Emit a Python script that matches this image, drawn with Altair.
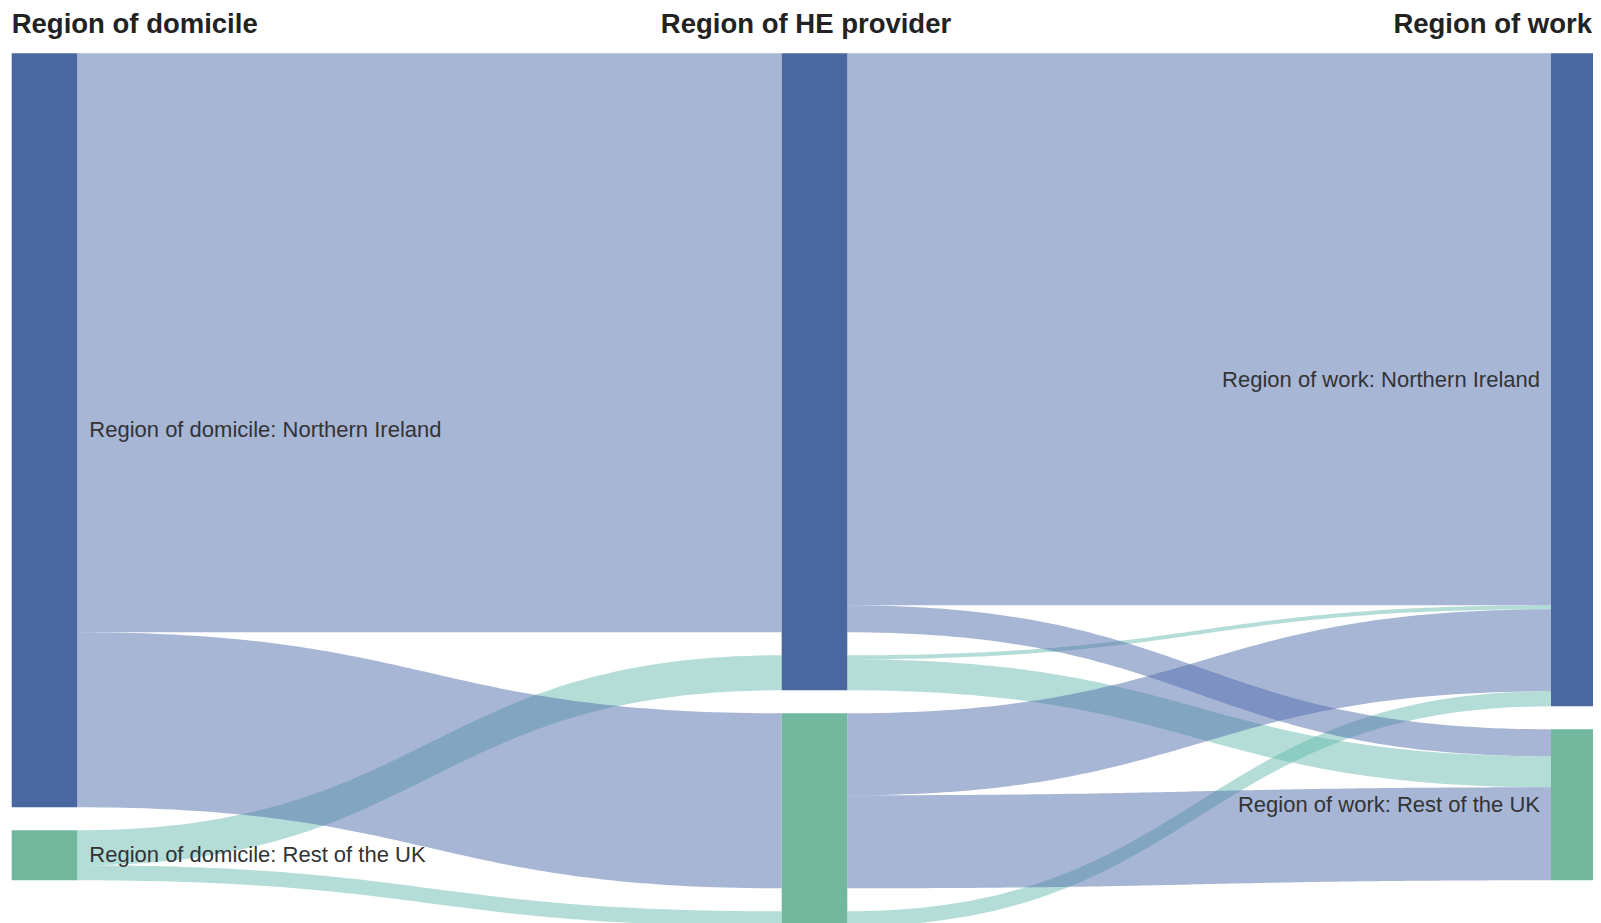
import altair as alt
import numpy as np
import pandas as pd

# ---------------- data ----------------
domiciles = ["Northern Ireland", "Rest of the UK"]
providers = ["Northern Ireland", "Rest of the UK"]
works = ["Northern Ireland", "Rest of the UK"]

flow_domicile = ["Northern Ireland", "Northern Ireland", "Northern Ireland", "Northern Ireland",
                 "Rest of the UK", "Rest of the UK", "Rest of the UK"]
flow_provider = ["Northern Ireland", "Northern Ireland", "Rest of the UK", "Rest of the UK",
                 "Northern Ireland", "Northern Ireland", "Rest of the UK"]
flow_work = ["Northern Ireland", "Rest of the UK", "Northern Ireland", "Rest of the UK",
             "Northern Ireland", "Rest of the UK", "Northern Ireland"]
flow_value = [552, 27, 82, 93, 4, 31, 15]

stage_titles = ["Region of domicile", "Region of HE provider", "Region of work"]
domicile_labels = ["Region of domicile: Northern Ireland", "Region of domicile: Rest of the UK"]
work_labels = ["Region of work: Northern Ireland", "Region of work: Rest of the UK"]

node_colors = ["#4a67a0", "#72b79e"]
link_colors = ["#516dad", "#67bbad"]

# ---------------- layout ----------------
ORIGIN = 8.0
W, H = 1585, 915
NODE_X = [11.7, 781.7, 1551.0]
NODE_W = 65.6
TOP = 53.3
GAP = 23.0

flows = pd.DataFrame({"d": flow_domicile, "p": flow_provider, "w": flow_work, "v": flow_value})
ncol = dict(zip(domiciles, node_colors))
lcol = dict(zip(domiciles, link_colors))

nodes = []
# stage 1: domicile
dom_pos = {}
y = TOP
for d in domiciles:
    h = flows.loc[flows.d == d, "v"].sum()
    dom_pos[d] = (y, y + h)
    nodes.append({"x": NODE_X[0], "x2": NODE_X[0] + NODE_W, "y": y, "y2": y + h, "color": ncol[d]})
    y += h + GAP

# stage 2: provider, with a segment per domicile
seg_pos = {}
y = TOP
for i, p in enumerate(providers):
    start = y
    first = True
    for d in domiciles:
        h = flows.loc[(flows.d == d) & (flows.p == p), "v"].sum()
        if h == 0:
            continue
        if not first:
            y += GAP
        seg_pos[(p, d)] = (y, y + h)
        y += h
        first = False
    nodes.append({"x": NODE_X[1], "x2": NODE_X[1] + NODE_W, "y": start, "y2": y, "color": node_colors[i]})
    y += GAP

# stage 3: work
work_pos = {}
y = TOP
for i, w in enumerate(works):
    h = flows.loc[flows.w == w, "v"].sum()
    work_pos[w] = (y, y + h)
    nodes.append({"x": NODE_X[2], "x2": NODE_X[2] + NODE_W, "y": y, "y2": y + h, "color": node_colors[i]})
    y += h + GAP

nodes_df = pd.DataFrame(nodes)

links = []
def add_link(lid, x0, x1, y0, y1, v, d):
    t = np.linspace(0, 1, 90)
    xm = (x0 + x1) / 2
    xs = (1 - t) ** 3 * x0 + 3 * (1 - t) ** 2 * t * xm + 3 * (1 - t) * t ** 2 * xm + t ** 3 * x1
    s = 3 * t ** 2 - 2 * t ** 3
    ytop = y0 + (y1 - y0) * s
    for xx, yy in zip(xs, ytop):
        links.append({"link": lid, "x": xx, "y": yy, "y2": yy + v, "dom": d, "color": lcol[d]})

lid = 0
# stage 1 -> 2
for d in domiciles:
    off = dom_pos[d][0]
    for p in providers:
        v = flows.loc[(flows.d == d) & (flows.p == p), "v"].sum()
        if v == 0:
            continue
        add_link(lid, NODE_X[0] + NODE_W, NODE_X[1], off, seg_pos[(p, d)][0], v, d)
        off += v
        lid += 1

# stage 2 -> 3
tgt_off = {w: work_pos[w][0] for w in works}
tgt_start = {}
for p in providers:
    for d in domiciles:
        for w in works:
            v = flows.loc[(flows.d == d) & (flows.p == p) & (flows.w == w), "v"].sum()
            tgt_start[(d, p, w)] = tgt_off[w]
            tgt_off[w] += v
for p in providers:
    for d in domiciles:
        if (p, d) not in seg_pos:
            continue
        off = seg_pos[(p, d)][0]
        for w in works:
            v = flows.loc[(flows.d == d) & (flows.p == p) & (flows.w == w), "v"].sum()
            if v == 0:
                continue
            add_link(lid, NODE_X[1] + NODE_W, NODE_X[2], off, tgt_start[(d, p, w)], v, d)
            off += v
            lid += 1

links_df = pd.DataFrame(links)

labels_left = pd.DataFrame({
    "x": [NODE_X[0] + NODE_W + 12] * 2,
    "y": [(dom_pos[d][0] + dom_pos[d][1]) / 2 for d in domiciles],
    "text": domicile_labels,
})
labels_right = pd.DataFrame({
    "x": [NODE_X[2] - 11] * 2,
    "y": [(work_pos[w][0] + work_pos[w][1]) / 2 for w in works],
    "text": work_labels,
})
titles_df = pd.DataFrame({
    "x": [NODE_X[0], 806.0, 1592.0],
    "y": [33.0] * 3,
    "text": stage_titles,
})

# ---------------- chart ----------------
xs = alt.Scale(domain=[ORIGIN, ORIGIN + W], nice=False, zero=False)
ys = alt.Scale(domain=[ORIGIN, ORIGIN + H], reverse=True, nice=False, zero=False)

def link_layer(dom):
    return alt.Chart(links_df[links_df.dom == dom]).mark_area(
        opacity=0.5, interpolate="linear", clip=True
    ).encode(
        x=alt.X("x:Q", scale=xs, axis=None),
        y=alt.Y("y:Q", scale=ys, axis=None, stack=None),
        y2="y2:Q",
        color=alt.Color("color:N", scale=None),
        detail="link:N",
    )

node_layer = alt.Chart(nodes_df).mark_rect(clip=True).encode(
    x=alt.X("x:Q", scale=xs, axis=None),
    x2="x2:Q",
    y=alt.Y("y:Q", scale=ys, axis=None),
    y2="y2:Q",
    color=alt.Color("color:N", scale=None),
)

FONT = "Liberation Sans"
def text_layer(df, align, size, weight, color, baseline):
    return alt.Chart(df).mark_text(
        align=align, baseline=baseline, fontSize=size, fontWeight=weight,
        font=FONT, color=color
    ).encode(
        x=alt.X("x:Q", scale=xs, axis=None),
        y=alt.Y("y:Q", scale=ys, axis=None),
        text="text:N",
    )

lab_l = text_layer(labels_left, "left", 22, "normal", "#333333", "middle")
lab_r = text_layer(labels_right, "right", 22, "normal", "#333333", "middle")
t0 = text_layer(titles_df.iloc[[0]], "left", 27.5, "bold", "#222222", "alphabetic")
t1 = text_layer(titles_df.iloc[[1]], "center", 27.5, "bold", "#222222", "alphabetic")
t2 = text_layer(titles_df.iloc[[2]], "right", 27.5, "bold", "#222222", "alphabetic")

chart = alt.layer(
    link_layer("Rest of the UK"), link_layer("Northern Ireland"), node_layer,
    lab_l, lab_r, t0, t1, t2
).properties(
    width=W, height=H, padding=0, autosize=alt.AutoSizeParams(type="none"),
    background="white"
).configure_view(stroke=None)

chart.save("out.html", embed_options={"renderer": "svg", "actions": False})
